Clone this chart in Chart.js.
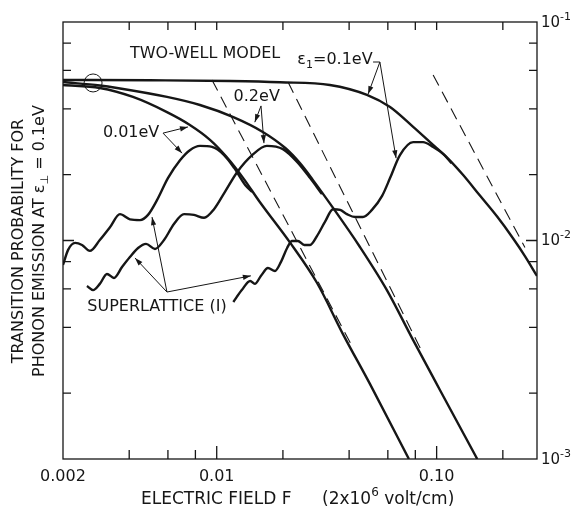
<!DOCTYPE html>
<html>
<head>
<meta charset="utf-8">
<script src="https://cdn.jsdelivr.net/npm/chart.js@4.4.0/dist/chart.umd.min.js"></script>
<style>
    html, body { margin: 0; padding: 0; background: #fff; }
</style>
</head>
<body>
<canvas id="Chart1" width="573" height="512"></canvas>
<script>
// electric field F (2x10^6 volt/cm) vs transition probability
var twoWell01F = [0.002, 0.00497, 0.0115, 0.0194, 0.0327, 0.0482, 0.0614, 0.0782, 0.0933, 0.111, 0.132, 0.157, 0.188, 0.222, 0.252, 0.286];
var twoWell01P = [0.0543, 0.0541, 0.0537, 0.0530, 0.0515, 0.0464, 0.0408, 0.0331, 0.0282, 0.0241, 0.01995, 0.0161, 0.0129, 0.01027, 0.00849, 0.00688];

var twoWell02F = [0.002, 0.00294, 0.00352, 0.00594, 0.00839, 0.0119, 0.0162, 0.0205, 0.0239, 0.0274, 0.0338, 0.0448, 0.0594, 0.0782, 0.1035, 0.153];
var twoWell02P = [0.0531, 0.0512, 0.0499, 0.0454, 0.0417, 0.0367, 0.0314, 0.0265, 0.0226, 0.0189, 0.0141, 0.00934, 0.00593, 0.00350, 0.00207, 0.001];

var twoWell001F = [0.002, 0.00294, 0.00416, 0.00594, 0.00755, 0.00932, 0.0111, 0.0132, 0.0157, 0.0216, 0.0286, 0.0375, 0.0498, 0.0748];
var twoWell001P = [0.0515, 0.0499, 0.0454, 0.0387, 0.0338, 0.0289, 0.0241, 0.0193, 0.0150, 0.00975, 0.00639, 0.00373, 0.00220, 0.001];

// dashed high-field asymptotes
var asym001F = [0.00952, 0.0412];
var asym001P = [0.0543, 0.00329];
var asym02F = [0.0211, 0.0859];
var asym02P = [0.0531, 0.00309];
var asym01F = [0.0964, 0.252];
var asym01P = [0.0572, 0.0093];

// superlattice (I)
var super001F = [0.002, 0.00211, 0.00227, 0.00244, 0.00265, 0.00294, 0.00327, 0.00363, 0.00403, 0.00448, 0.00487, 0.00535, 0.00600, 0.00681, 0.00755, 0.00839, 0.00952, 0.0108, 0.0120, 0.0135, 0.0145];
var super001P = [0.00773, 0.00906, 0.00975, 0.00954, 0.00896, 0.01005, 0.0115, 0.0132, 0.0125, 0.0124, 0.0131, 0.0153, 0.0193, 0.0233, 0.0259, 0.0271, 0.0268, 0.0246, 0.0215, 0.0179, 0.0167];

var super02F = [0.00257, 0.00274, 0.00294, 0.00317, 0.00341, 0.00371, 0.00403, 0.00439, 0.00477, 0.00524, 0.00576, 0.00639, 0.00710, 0.00788, 0.00876, 0.00972, 0.0109, 0.0124, 0.0145, 0.0169, 0.0200, 0.0232, 0.0266, 0.0301];
var super02P = [0.00619, 0.00593, 0.00633, 0.00703, 0.00674, 0.00756, 0.00840, 0.00924, 0.00965, 0.00915, 0.01005, 0.0119, 0.0132, 0.0131, 0.0127, 0.0139, 0.0167, 0.0206, 0.0246, 0.0271, 0.0262, 0.0229, 0.0193, 0.0163];

var super01F = [0.0119, 0.0130, 0.0142, 0.0149, 0.0159, 0.0171, 0.0184, 0.0196, 0.0209, 0.0220, 0.0234, 0.0250, 0.0266, 0.0286, 0.0311, 0.0338, 0.0364, 0.0391, 0.0426, 0.0462, 0.0508, 0.0565, 0.0614, 0.0681, 0.0782, 0.0867, 0.0964, 0.107, 0.117];
var super01P = [0.00523, 0.00593, 0.00653, 0.00633, 0.00689, 0.00748, 0.00725, 0.00798, 0.00924, 0.00995, 0.00995, 0.00954, 0.00954, 0.0105, 0.0122, 0.0139, 0.0138, 0.0132, 0.0128, 0.0128, 0.0138, 0.0160, 0.0193, 0.0246, 0.0282, 0.0282, 0.0268, 0.0249, 0.0226];

// axes
var xTickVals = [0.004, 0.006, 0.008, 0.01, 0.02, 0.04, 0.06, 0.08, 0.1, 0.2];
var yTickVals = [0.002, 0.004, 0.006, 0.008, 0.01, 0.02, 0.04, 0.06, 0.08];
var xLabelVals = [0.002, 0.01, 0.1];
var xLabels = ['0.002', '0.01', '0.10'];
var yLabelVals = [0.1, 0.01, 0.001];
var yLabelExp = ['-1', '-2', '-3'];

// annotations, in data units [F, P]
var noteTwoWell = [0.00885, 0.0714];
var noteEps01 = [0.0345, 0.0670];
var note02 = [0.0152, 0.0454];
var note001 = [0.00408, 0.0310];
var noteSuper = [0.00535, 0.00496];
var circleAt = [0.00274, 0.0526];
var arrows = [
    [[0.0552, 0.0656], [0.0488, 0.0468]],
    [[0.0552, 0.0656], [0.0654, 0.0238]],
    [[0.0159, 0.0413], [0.0149, 0.0348]],
    [[0.0159, 0.0413], [0.0164, 0.0279]],
    [[0.00570, 0.0310], [0.00740, 0.0331]],
    [[0.00570, 0.0310], [0.00696, 0.0251]],
    [[0.00594, 0.00581], [0.00508, 0.0128]],
    [[0.00594, 0.00581], [0.00425, 0.00832]],
    [[0.00594, 0.00581], [0.0143, 0.00689]]
];
var epsTail = [[0.0514, 0.0656], [0.0552, 0.0656]];

var ink = '#161616';
var font = '"DejaVu Sans", sans-serif';

function pts(f, p) {
    return f.map(function (v, i) { return { x: v, y: p[i] }; });
}

function solid(f, p) {
    return {
        data: pts(f, p),
        borderColor: ink,
        borderWidth: 2.4,
        pointRadius: 0,
        cubicInterpolationMode: 'monotone',
        fill: false
    };
}

function dashed(f, p) {
    return {
        data: pts(f, p),
        borderColor: ink,
        borderWidth: 1.1,
        borderDash: [12, 7],
        pointRadius: 0,
        fill: false
    };
}

// draws text pieces, some as sub/superscript, starting at x (align left/center)
function richText(ctx, parts, x, y, size, align) {
    var total = 0;
    parts.forEach(function (p) {
        ctx.font = (p.sub || p.sup ? Math.round(size * 0.7) : size) + 'px ' + font;
        p.w = ctx.measureText(p.t).width;
        total += p.w;
    });
    var cx = align === 'center' ? x - total / 2 : x;
    ctx.textAlign = 'left';
    ctx.textBaseline = 'middle';
    parts.forEach(function (p) {
        ctx.font = (p.sub || p.sup ? Math.round(size * 0.7) : size) + 'px ' + font;
        var dy = p.sub ? size * 0.3 : (p.sup ? -size * 0.4 : 0);
        ctx.fillText(p.t, cx, y + dy);
        cx += p.w;
    });
    return total;
}

function arrow(ctx, x1, y1, x2, y2) {
    ctx.beginPath();
    ctx.moveTo(x1, y1);
    ctx.lineTo(x2, y2);
    ctx.stroke();
    var ang = Math.atan2(y2 - y1, x2 - x1);
    ctx.beginPath();
    ctx.moveTo(x2, y2);
    ctx.lineTo(x2 - 8 * Math.cos(ang) + 2.6 * Math.sin(ang), y2 - 8 * Math.sin(ang) - 2.6 * Math.cos(ang));
    ctx.lineTo(x2 - 8 * Math.cos(ang) - 2.6 * Math.sin(ang), y2 - 8 * Math.sin(ang) + 2.6 * Math.cos(ang));
    ctx.closePath();
    ctx.fill();
}

function isDecade(v) {
    var l = Math.log10(v);
    return Math.abs(l - Math.round(l)) < 1e-6;
}

var figurePlugin = {
    id: 'figure',
    afterDraw: function (chart) {
        var ctx = chart.ctx;
        var a = chart.chartArea;
        var xs = chart.scales.x, ys = chart.scales.y;
        var X = function (v) { return xs.getPixelForValue(v); };
        var Y = function (v) { return ys.getPixelForValue(v); };
        ctx.save();
        ctx.strokeStyle = ink;
        ctx.fillStyle = ink;

        // frame and inward ticks
        ctx.lineWidth = 1.3;
        ctx.strokeRect(a.left, a.top, a.right - a.left, a.bottom - a.top);
        ctx.beginPath();
        xTickVals.forEach(function (v) {
            var px = X(v), len = isDecade(v) ? 13 : 9;
            ctx.moveTo(px, a.bottom); ctx.lineTo(px, a.bottom - len);
            ctx.moveTo(px, a.top); ctx.lineTo(px, a.top + 8);
        });
        yTickVals.forEach(function (v) {
            var py = Y(v), len = isDecade(v) ? 11 : 8;
            ctx.moveTo(a.left, py); ctx.lineTo(a.left + len, py);
            ctx.moveTo(a.right, py); ctx.lineTo(a.right - len, py);
        });
        ctx.stroke();

        // tick labels
        xLabelVals.forEach(function (v, i) {
            richText(ctx, [{ t: xLabels[i] }], X(v), a.bottom + 18, 16, 'center');
        });
        yLabelVals.forEach(function (v, i) {
            richText(ctx, [{ t: '10' }, { t: yLabelExp[i], sup: true }], a.right + 4, Y(v) + 1, 15, 'left');
        });

        // axis titles
        richText(ctx, [{ t: 'ELECTRIC FIELD F' }], 141, 500, 17, 'left');
        richText(ctx, [{ t: '(2x10' }, { t: '6', sup: true }, { t: ' volt/cm)' }], 322, 500, 17, 'left');
        ctx.save();
        ctx.translate(19, 241);
        ctx.rotate(-Math.PI / 2);
        richText(ctx, [{ t: 'TRANSITION PROBABILITY FOR' }], 0, 0, 16, 'center');
        ctx.restore();
        ctx.save();
        ctx.translate(40, 241);
        ctx.rotate(-Math.PI / 2);
        richText(ctx, [{ t: 'PHONON EMISSION AT \u03b5' }, { t: '\u22a5', sub: true }, { t: ' = 0.1eV' }], 0, 0, 16, 'center');
        ctx.restore();

        // curve notes
        richText(ctx, [{ t: 'TWO-WELL MODEL' }], X(noteTwoWell[0]), Y(noteTwoWell[1]), 16, 'center');
        richText(ctx, [{ t: '\u03b5' }, { t: '1', sub: true }, { t: '=0.1eV' }], X(noteEps01[0]), Y(noteEps01[1]), 16, 'center');
        richText(ctx, [{ t: '0.2eV' }], X(note02[0]), Y(note02[1]), 16, 'center');
        richText(ctx, [{ t: '0.01eV' }], X(note001[0]), Y(note001[1]), 16, 'center');
        richText(ctx, [{ t: 'SUPERLATTICE (I)' }], X(noteSuper[0]), Y(noteSuper[1]), 16, 'center');

        ctx.lineWidth = 1;
        arrows.forEach(function (ar) {
            arrow(ctx, X(ar[0][0]), Y(ar[0][1]), X(ar[1][0]), Y(ar[1][1]));
        });
        ctx.beginPath();
        ctx.moveTo(X(epsTail[0][0]), Y(epsTail[0][1]));
        ctx.lineTo(X(epsTail[1][0]), Y(epsTail[1][1]));
        ctx.stroke();

        ctx.beginPath();
        ctx.arc(X(circleAt[0]), Y(circleAt[1]), 9, 0, Math.PI * 2);
        ctx.stroke();
        ctx.restore();
    }
};

var ctx1 = document.getElementById('Chart1');
var Chart1 = new Chart(ctx1, {
    type: 'line',
    data: {
        datasets: [
            solid(twoWell01F, twoWell01P),
            solid(twoWell02F, twoWell02P),
            solid(twoWell001F, twoWell001P),
            solid(super001F, super001P),
            solid(super02F, super02P),
            solid(super01F, super01P),
            dashed(asym001F, asym001P),
            dashed(asym02F, asym02P),
            dashed(asym01F, asym01P)
        ]
    },
    options: {
        responsive: false,
        animation: false,
        devicePixelRatio: 1,
        layout: { padding: { top: 22, right: 36, left: 0, bottom: 0 } },
        plugins: { legend: { display: false }, tooltip: { enabled: false } },
        scales: {
            x: {
                type: 'logarithmic',
                min: 0.002,
                max: 0.286,
                ticks: { display: false },
                grid: { display: false },
                border: { display: false },
                afterFit: function (s) { s.height = 53; }
            },
            y: {
                type: 'logarithmic',
                min: 0.001,
                max: 0.1,
                ticks: { display: false },
                grid: { display: false },
                border: { display: false },
                afterFit: function (s) { s.width = 63; }
            }
        }
    },
    plugins: [figurePlugin]
});
</script>
</body>
</html>
